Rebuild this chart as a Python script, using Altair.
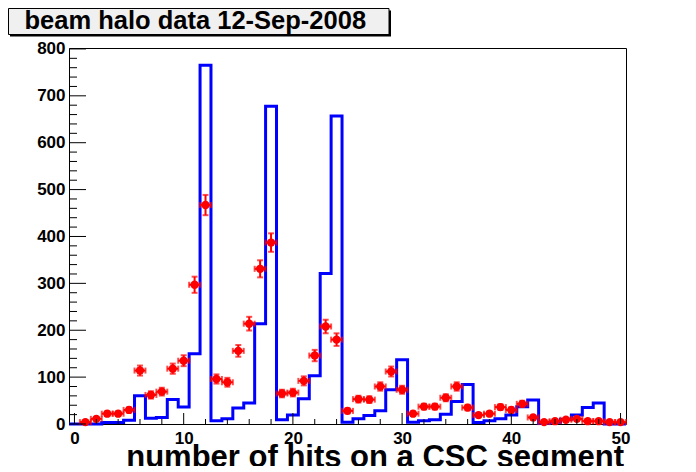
import altair as alt
import pandas as pd

# ---------------- data ----------------
blue_bins = list(range(0, 51))
blue_counts = [0, 0, 0, 3, 3, 8, 60, 12, 14, 52, 36, 150, 765, 7, 11, 34, 45, 214, 678, 9,
               19, 54, 103, 321, 657, 4, 11, 18, 28, 73, 137, 4, 7, 9, 21, 48, 84, 3, 7, 11,
               19, 37, 51, 1, 4, 10, 19, 35, 45, 0, 0]
red_bins = list(range(1, 51))
red_counts = [4, 11, 22, 22, 30, 114, 62, 69, 118, 135, 297, 467, 96, 89, 156, 214, 331, 387, 65, 67,
              92, 146, 208, 180, 28, 53, 52, 80, 112, 73, 22, 37, 37, 56, 80, 35, 19, 22, 36, 30,
              43, 14, 4, 6, 9, 11, 6, 6, 4, 4]
y_major = list(range(0, 801, 100))
y_minor = [v for v in range(0, 801, 20) if v % 100]
x_major = list(range(0, 51, 10))
x_minor = [v for v in range(0, 51, 2) if v % 10]
title_text = "beam halo data 12-Sep-2008"
xtitle_text = "number of hits on a CSC segment"

W, H = 557, 376
FONT = "Liberation Sans"

xs = alt.Scale(domain=[-0.5, 50.5], nice=False, zero=False)
ys = alt.Scale(domain=[0, 802], nice=False, zero=False)

# step outline data (bin edges)
blue_df = pd.DataFrame({
    "edge": [b - 0.5 for b in blue_bins] + [blue_bins[-1] + 0.5],
    "count": blue_counts + [blue_counts[-1]],
})
red_df = pd.DataFrame({"x": red_bins, "count": red_counts})

base_red = alt.Chart(red_df).transform_calculate(
    lo="datum.count - sqrt(datum.count)",
    hi="datum.count + sqrt(datum.count)",
    xl="datum.x - 0.5",
    xr="datum.x + 0.5",
)

blue = alt.Chart(blue_df).mark_line(
    interpolate="step-after", color="#0000ff", strokeWidth=3
).encode(
    x=alt.X("edge:Q", scale=xs, axis=alt.Axis(values=x_major, ticks=False, domain=False, grid=False,
                                              title=None, labelFont=FONT, labelFontWeight="bold",
                                              labelFontSize=17, labelPadding=6, tickSize=0,
                                              labelColor="black", labelFlush=False)),
    y=alt.Y("count:Q", scale=ys, axis=alt.Axis(values=y_major, ticks=False, domain=False, grid=False,
                                               title=None, labelFont=FONT, labelFontWeight="bold",
                                               labelFontSize=17, labelPadding=4, tickSize=0,
                                               labelColor="black", labelFlush=False)),
)

xerr = base_red.mark_rule(color="#ff0000", strokeWidth=2).encode(
    x=alt.X("xl:Q", scale=xs), x2="xr:Q", y=alt.Y("count:Q", scale=ys))
yerr = base_red.mark_rule(color="#ff0000", strokeWidth=2).encode(
    x=alt.X("x:Q", scale=xs), y=alt.Y("lo:Q", scale=ys), y2="hi:Q")
capl = base_red.mark_tick(color="#ff0000", orient="vertical", size=6, thickness=2).encode(
    x=alt.X("xl:Q", scale=xs), y=alt.Y("count:Q", scale=ys))
capr = base_red.mark_tick(color="#ff0000", orient="vertical", size=6, thickness=2).encode(
    x=alt.X("xr:Q", scale=xs), y=alt.Y("count:Q", scale=ys))
caplo = base_red.mark_tick(color="#ff0000", orient="horizontal", size=6, thickness=2).encode(
    x=alt.X("x:Q", scale=xs), y=alt.Y("lo:Q", scale=ys))
caphi = base_red.mark_tick(color="#ff0000", orient="horizontal", size=6, thickness=2).encode(
    x=alt.X("x:Q", scale=xs), y=alt.Y("hi:Q", scale=ys))
pts = base_red.mark_circle(color="#ff0000", size=70, opacity=1).encode(
    x=alt.X("x:Q", scale=xs), y=alt.Y("count:Q", scale=ys))

# inward ticks
ymaj = alt.Chart(pd.DataFrame({"v": y_major})).mark_rule(color="black", strokeWidth=1).encode(
    y=alt.Y("v:Q", scale=ys), x=alt.value(0), x2=alt.value(17))
ymin = alt.Chart(pd.DataFrame({"v": y_minor})).mark_rule(color="black", strokeWidth=1).encode(
    y=alt.Y("v:Q", scale=ys), x=alt.value(0), x2=alt.value(8))
xmaj = alt.Chart(pd.DataFrame({"v": x_major})).mark_rule(color="black", strokeWidth=1).encode(
    x=alt.X("v:Q", scale=xs), y=alt.value(H), y2=alt.value(H - 11))
xmin = alt.Chart(pd.DataFrame({"v": x_minor})).mark_rule(color="black", strokeWidth=1).encode(
    x=alt.X("v:Q", scale=xs), y=alt.value(H), y2=alt.value(H - 5))

# title box
one = pd.DataFrame({"t": [title_text]})
shadow = alt.Chart(one).mark_rect(color="black").encode(
    x=alt.value(-59), x2=alt.value(322), y=alt.value(-37.5), y2=alt.value(-11.5))
box = alt.Chart(one).mark_rect(fill="#f0f0f0", stroke="black", strokeWidth=1).encode(
    x=alt.value(-60.5), x2=alt.value(320), y=alt.value(-39.5), y2=alt.value(-13.5))
ttl = alt.Chart(one).mark_text(font=FONT, fontWeight="bold", fontSize=25.5, align="left",
                               baseline="alphabetic", color="black").encode(
    text="t:N", x=alt.value(-44.5), y=alt.value(-19.5))

xt = alt.Chart(pd.DataFrame({"t": [xtitle_text]})).mark_text(
    font=FONT, fontWeight="bold", fontSize=31, align="right",
    baseline="alphabetic", color="black").encode(
    text="t:N", x=alt.value(555), y=alt.value(419))

chart = alt.layer(
    blue, xerr, yerr, capl, capr, caplo, caphi, pts, ymaj, ymin, xmaj, xmin,
    shadow, box, ttl, xt
).properties(
    width=W, height=H,
    autosize=alt.AutoSizeParams(type="none"),
    padding={"left": 61, "top": 40, "right": 50, "bottom": 42},
    background="white",
).configure_view(stroke="black", strokeWidth=1)

chart.save("out.html", embed_options={"renderer": "svg", "actions": False})
